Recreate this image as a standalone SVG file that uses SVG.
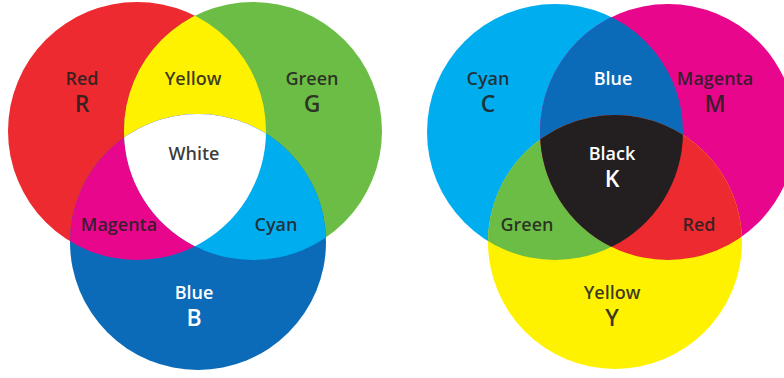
<svg xmlns="http://www.w3.org/2000/svg" width="784" height="378" viewBox="0 0 784 378">
<style>
text{font-family:"Open Sans","Liberation Sans",sans-serif;font-weight:600;text-anchor:middle;fill:#231F20;fill-opacity:0.88}
.lab{font-size:18px}
.let{font-size:23px}
.w{fill:#FFFFFF;fill-opacity:1}
</style>
<defs>
<clipPath id="cR"><circle cx="137" cy="131" r="129"/></clipPath>
<clipPath id="cG"><circle cx="253" cy="131" r="129"/></clipPath>
<clipPath id="cRG" clip-path="url(#cR)"><circle cx="253" cy="131" r="129"/></clipPath>
<clipPath id="cC"><circle cx="555" cy="132" r="128"/></clipPath>
<clipPath id="cM"><circle cx="668" cy="132" r="128"/></clipPath>
<clipPath id="cCM" clip-path="url(#cC)"><circle cx="668" cy="132" r="128"/></clipPath>
</defs>
<rect width="784" height="378" fill="#FFFFFF"/>
<g id="rgb">
<g id="red"><circle cx="137" cy="131" r="129" fill="#EC2A2F"/></g>
<g id="green"><circle cx="253" cy="131" r="129" fill="#6CBD45"/></g>
<g id="blue"><circle cx="198" cy="242" r="128" fill="#0B6BB8"/></g>
<g id="yellow"><circle cx="253" cy="131" r="129" fill="#FFF200" clip-path="url(#cR)"/></g>
<g id="magenta"><circle cx="198" cy="242" r="128" fill="#E8078C" clip-path="url(#cR)"/></g>
<g id="cyan"><circle cx="198" cy="242" r="128" fill="#00AEEF" clip-path="url(#cG)"/></g>
<g id="white"><circle cx="198" cy="242" r="128" fill="#FFFFFF" clip-path="url(#cRG)"/></g>
<g id="rgb-labels">
<text class="lab" x="82" y="85">Red</text>
<text class="let" x="82" y="112">R</text>
<text class="lab" x="193" y="85">Yellow</text>
<text class="lab" x="312" y="85">Green</text>
<text class="let" x="312" y="112">G</text>
<text class="lab" x="194" y="160">White</text>
<text class="lab" x="119" y="231">Magenta</text>
<text class="lab" x="276" y="231">Cyan</text>
<text class="lab w" x="194" y="299">Blue</text>
<text class="let w" x="194" y="326">B</text>
</g>
</g>
<g id="cmy">
<g id="c-cyan"><circle cx="555" cy="132" r="128" fill="#00AEEF"/></g>
<g id="c-magenta"><circle cx="668" cy="132" r="128" fill="#E8078C"/></g>
<g id="c-yellow"><circle cx="615" cy="242" r="127" fill="#FFF200"/></g>
<g id="c-blue"><circle cx="668" cy="132" r="128" fill="#0B6BB8" clip-path="url(#cC)"/></g>
<g id="c-green"><circle cx="615" cy="242" r="127" fill="#6CBD45" clip-path="url(#cC)"/></g>
<g id="c-red"><circle cx="615" cy="242" r="127" fill="#EC2A2F" clip-path="url(#cM)"/></g>
<g id="c-black"><circle cx="615" cy="242" r="127" fill="#231F20" clip-path="url(#cCM)"/></g>
<g id="cmy-labels">
<text class="lab" x="488" y="85">Cyan</text>
<text class="let" x="488" y="112">C</text>
<text class="lab w" x="613" y="85">Blue</text>
<text class="lab" x="715" y="85">Magenta</text>
<text class="let" x="715" y="112">M</text>
<text class="lab w" x="612" y="160">Black</text>
<text class="let w" x="612" y="187">K</text>
<text class="lab" x="527" y="231">Green</text>
<text class="lab" x="699" y="231">Red</text>
<text class="lab" x="612" y="299">Yellow</text>
<text class="let" x="612" y="326">Y</text>
</g>
</g>
</svg>
